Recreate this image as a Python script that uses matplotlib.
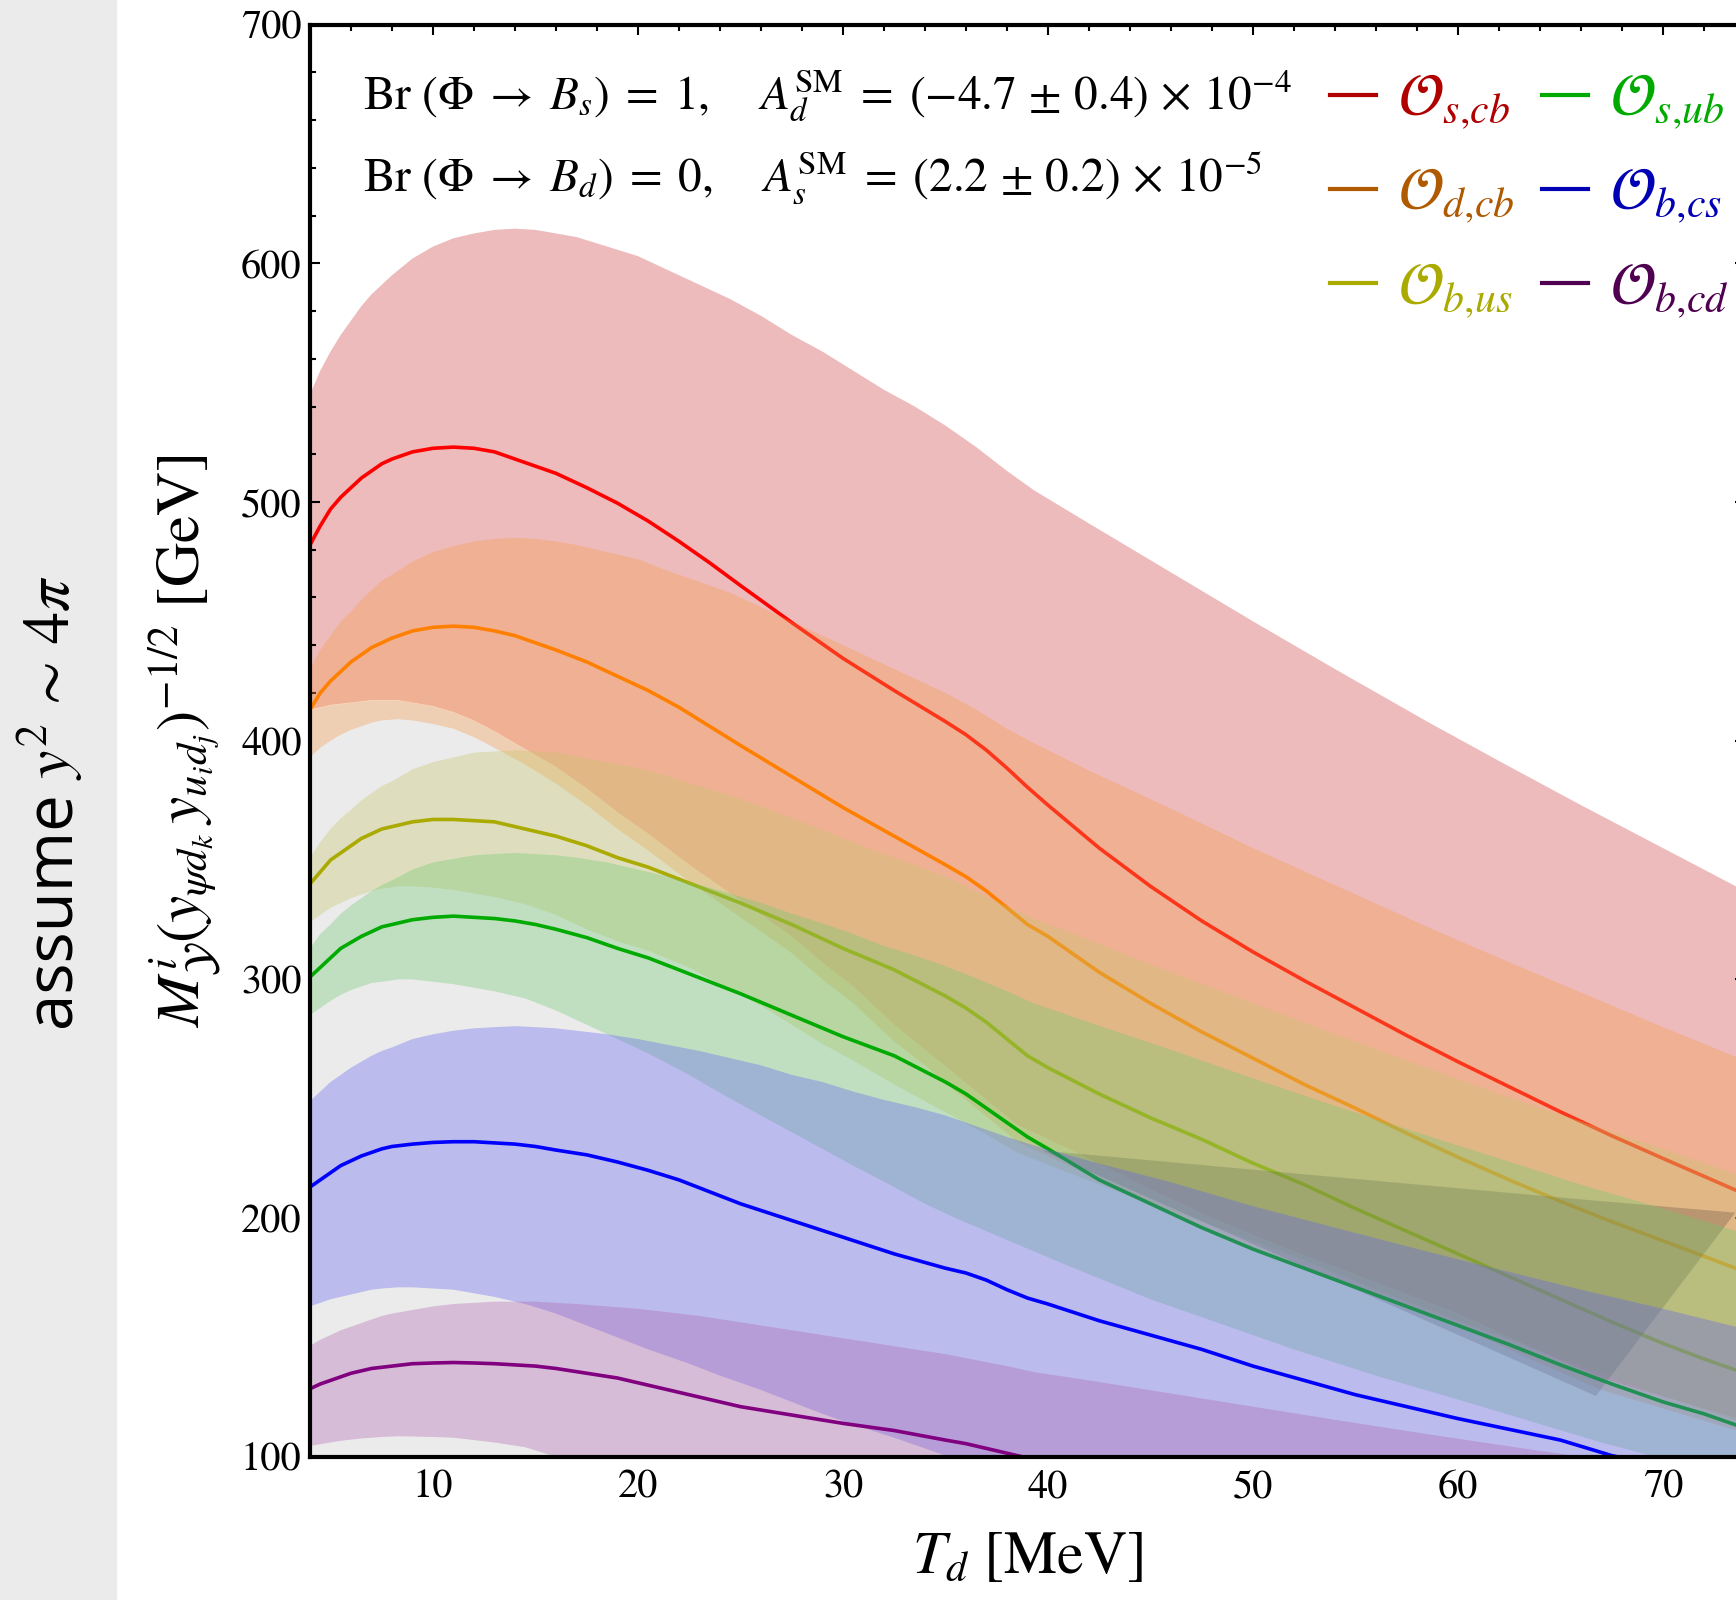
import matplotlib.pyplot as plt
from matplotlib.lines import Line2D
from matplotlib.patches import Rectangle
from matplotlib.ticker import MultipleLocator

plt.rcParams['mathtext.fontset'] = 'stix'
plt.rcParams['font.family'] = ['STIXGeneral', 'DejaVu Serif']

T_LINE = [4, 4.5, 5, 5.5, 6, 6.5, 7, 7.5, 8, 9, 10, 11, 12, 13, 14, 15, 16,
          17.5, 19, 20.5, 22, 23.5, 25, 27.5, 30, 32.5, 35, 36, 37, 38, 39, 40,
          42.5, 45, 47.5, 50, 52.5, 55, 57.5, 60, 62.5, 65, 67.5, 70, 72, 74]
T_UP = [4, 4.5, 5, 5.5, 6, 6.5, 7, 7.5, 8, 9, 10, 11, 12, 13, 14, 15, 16, 17,
        18.5, 20, 21.5, 23, 24.5, 26, 27.5, 29, 30.5, 32, 33.5, 35, 36.5, 38,
        39.3, 42, 46, 50, 54, 58.5, 62, 66, 70, 74]
T_LO = [4, 4.5, 5, 5.5, 6, 6.5, 7, 7.5, 8.3, 9, 10, 11, 12, 13, 14.5, 16,
        17.5, 19, 20.5, 22.5, 24, 26, 27.5, 29, 30.5, 32.5, 34, 35.5, 37, 38.5,
        41, 45, 48, 52, 56, 60, 63.5, 67, 70.5, 74]

# central curves (GeV), on T_LINE
red_line = [482, 490, 497, 502, 506, 510, 513, 516, 518, 521, 522.5, 523, 522.5,
            521, 518, 515, 512, 506, 499.5, 492, 483.5, 474.5, 465, 449.5, 434.5,
            421, 408, 402.5, 396, 388.5, 380.5, 373, 355, 339, 324.5, 311.5,
            299.5, 288, 276.5, 265.5, 255, 244.5, 234.5, 225, 217.5, 210]
orange_line = [413, 420, 425, 429, 433, 436, 439, 441, 443, 446, 447.5, 448,
               447.5, 446, 444, 441, 438, 433, 427, 421, 414, 406, 398, 385, 372,
               360, 348, 343, 337, 330, 323, 318, 303, 290, 278, 267, 256, 246,
               235.5, 225.5, 216, 207, 198.5, 190.5, 184, 177.5]
olive_line = [340, 345, 350, 353, 356, 359, 361, 363, 364, 366, 367, 367, 366.5,
              366, 364, 362, 360, 356, 351, 347, 342, 337, 332, 323, 313, 304,
              293, 288, 282, 275, 268, 263, 252, 242, 233, 223, 214, 204, 194.5,
              185, 175.5, 166, 156.5, 147.5, 141, 135]
green_line = [301, 305, 309, 313, 315.5, 318, 320, 322, 323, 325, 326, 326.5,
              326, 325.5, 324.5, 323, 321, 317.5, 313, 309, 304, 299, 294, 285,
              276, 268, 257, 252, 246, 240, 234, 229, 216, 206, 196, 187, 179,
              171, 163, 155, 147, 138.5, 130.5, 123, 118, 112]
blue_line = [213, 216, 219, 222, 224, 226, 227.5, 229, 230, 231, 231.7, 232, 232,
             231.5, 231, 230, 228.5, 226.5, 223.5, 220, 216, 211, 206, 199, 192,
             185, 179, 177, 174, 170, 166.5, 164, 157, 151, 145, 138, 132, 126,
             121, 116, 111.5, 107, 100.5, 96]
purple_line = [128.5, 130.5, 132, 133.5, 135, 136, 137, 137.5, 138, 139, 139.3,
               139.5, 139.3, 139, 138.5, 138, 137, 135, 133, 130, 127, 124, 121,
               117.5, 114, 111, 107, 105.5, 103.5, 101.5, 99.5, 97.5]

# upper edges of the bands, on T_UP
red_up = [545, 555, 563, 570, 576, 582, 587, 591, 595, 602, 607, 610.5, 612.5,
          614, 614.5, 614, 612.5, 611, 607, 603, 597, 591, 585, 578, 570, 563,
          555, 547, 540, 532, 523, 513, 505, 491, 470.5, 450, 430, 408, 391.5,
          373, 355, 337]
orange_up = [430, 438, 444, 450, 454, 459, 463, 467, 469.5, 475, 479, 481.5,
             483.5, 484.5, 485, 484.5, 483.5, 482, 479, 476, 471, 466.5, 462, 456,
             450, 444, 438, 432, 426, 420, 413, 405, 399, 387.5, 371.5, 355,
             339.5, 322, 309, 294.5, 280, 266]
olive_up = [351, 357.5, 363, 367.5, 371, 375, 378, 381, 383, 388, 391, 393, 395,
            395.5, 396, 395.5, 395, 393.5, 391, 388.5, 385, 381, 377, 372.5,
            367.5, 362.5, 357.5, 352.5, 348, 343, 337, 330.5, 325.5, 316.5, 303,
            290, 277, 263, 252, 240.5, 229, 217]
green_up = [313, 319, 323, 327.5, 331, 334, 337, 339.5, 341.5, 346, 349, 350.5,
            352, 352.5, 353, 352.5, 352, 351, 349, 346, 343, 339.5, 336, 332,
            327.5, 323.5, 319, 314, 310, 305.5, 300.5, 295, 290, 282, 270.5,
            258.5, 247, 234.5, 225, 214, 204, 193.5]
blue_up = [249, 253, 257, 260, 263, 265.5, 268, 270, 271.5, 275, 277, 278.5,
           279.5, 280, 280.4, 280, 279.5, 278.5, 277, 275, 272.5, 270, 267, 264,
           260, 257, 253, 249.5, 246.5, 243, 238.5, 234, 230.5, 224, 215, 205,
           196, 186, 178.5, 170, 162, 153.5]
purple_up = [146.5, 149, 151, 153, 154.5, 156, 157.5, 159, 160, 161.5, 163, 164,
             164.5, 165, 165, 165, 164.5, 164, 163, 162, 160.5, 159, 157, 155,
             153, 151, 149, 147, 145, 143, 140.5, 138, 135.5, 132, 126.5, 121,
             115.5, 109.5, 105, 100, 95.5, 90.5]

# lower edges of the bands, on T_LO (the grey region sits under the red band)
gray_up = [413, 414, 415, 415.5, 416, 416.5, 417, 417, 417, 416, 414.5, 412,
           408.5, 404, 396.5, 389, 380, 370, 361, 348, 339, 327, 318, 307, 297,
           281, 270.5, 260, 249.5, 239, 229, 212, 200, 186, 173, 160, 146, 133,
           124, 115]
orange_lo = [393, 397, 400, 402.5, 404.5, 406, 407.5, 408.5, 409, 408.5, 407,
             405, 401.5, 397, 390, 382, 373, 363, 354, 341, 332, 320, 311, 300,
             290, 274, 264, 253, 242.5, 232, 222, 206, 194, 180, 167, 155, 141,
             128, 119, 110]
olive_lo = [324, 327, 330, 332, 334, 335.5, 337, 338, 339, 339, 338.5, 337.5,
            336, 334.5, 331.5, 327, 321, 316, 312, 305, 298, 289, 281, 273, 266,
            256, 249, 242, 235, 227.5, 219, 206, 197, 184, 170, 157, 146, 135,
            124, 114]
green_lo = [285, 288, 291, 293.5, 295.5, 297, 298.5, 299, 300, 300, 299, 298,
            296.5, 295, 292, 287, 281, 275, 269, 260, 252.5, 243, 236, 229, 222,
            213, 206, 200, 194.5, 189, 180, 166, 157, 145, 134, 124, 115, 106, 98,
            90]
blue_lo = [163, 164.5, 166, 167, 168, 169, 170, 170.5, 171, 171, 170.5, 170,
           168.5, 167, 164, 160, 155, 150, 145, 139, 134, 128, 123, 118, 113.5,
           108, 103.5, 99, 94.5, 90, 85, 78, 72, 65, 58, 52, 47, 42, 38, 34]
purple_lo = [104.5, 105.3, 106, 106.7, 107.2, 107.7, 108, 108.3, 108.6, 108.5,
             108.3, 108, 107, 106, 104, 100, 97, 94, 91, 87, 84, 80, 77, 74, 72,
             68, 65, 62, 60, 57, 53, 46, 42, 37, 32, 27, 23, 19, 15, 12]

# darker wedge where the bands pile up at high T_d
T_DARK = [39.7, 66.7, 73.5]
dark_up = [228.5, 207.5, 202.5]
dark_lo = [228.5, 125.7, 202.5]

labels = [r'$\mathcal{O}_{s{,}cb}$', r'$\mathcal{O}_{d{,}cb}$', r'$\mathcal{O}_{b{,}us}$',
          r'$\mathcal{O}_{s{,}ub}$', r'$\mathcal{O}_{b{,}cs}$', r'$\mathcal{O}_{b{,}cd}$']
legend_colors = ['#b00000', '#b05a00', '#aaaa00', '#00aa00', '#0000b4', '#500050']


def band(ax, up, lo, color, z):
    # polygon: upper edge left->right, lower edge right->left
    xs = T_UP + T_LO[::-1]
    ys = up + lo[::-1]
    ax.fill(xs, ys, color=color, alpha=0.35, lw=0, zorder=z)


fig = plt.figure(figsize=(17.36, 16), dpi=100)
fig.patches.append(Rectangle((0, 0), 116 / 1736, 1, transform=fig.transFigure,
                             color='#ebebeb', zorder=0))
ax = fig.add_axes([310 / 1736, 143.2 / 1600, 1435 / 1736, 1432.2 / 1600])

# bands + lines, drawn in the original stacking order
band(ax, red_up, gray_up, '#cc3d3d', 1)
ax.plot(T_LINE, red_line, color='#ff0000', lw=2.6, zorder=1.5)
ax.fill_between(T_LO, 0, gray_up, color='#ebebeb', lw=0, zorder=2)
band(ax, orange_up, orange_lo, '#f89c4c', 3)
ax.plot(T_LINE, orange_line, color='#ff8000', lw=2.6, zorder=3.5)
band(ax, olive_up, olive_lo, '#c6c66a', 4)
ax.plot(T_LINE, olive_line, color='#aaaa00', lw=2.6, zorder=4.5)
ax.fill_between(T_DARK, dark_lo, dark_up, color='#5f4b3f', alpha=0.3, lw=0,
                zorder=4.8)
band(ax, green_up, green_lo, '#70c970', 5)
ax.plot(T_LINE, green_line, color='#00aa00', lw=2.6, zorder=5.5)
band(ax, blue_up, blue_lo, '#6262f4', 6)
ax.plot(T_LINE[:len(blue_line)], blue_line, color='#0000ff', lw=2.6, zorder=6.5)
band(ax, purple_up, purple_lo, '#af65af', 7)
ax.plot(T_LINE[:len(purple_line)], purple_line, color='#800080', lw=2.6,
        zorder=7.5)

ax.set_xlim(4, 74)
ax.set_ylim(100, 700)
ax.xaxis.set_major_locator(MultipleLocator(10))
ax.xaxis.set_minor_locator(MultipleLocator(2))
ax.yaxis.set_major_locator(MultipleLocator(100))
ax.yaxis.set_minor_locator(MultipleLocator(20))
ax.tick_params(which='both', direction='in', top=True, right=True,
               width=1.5, labelsize=29, zorder=10)
ax.tick_params(which='major', length=7)
ax.tick_params(which='minor', length=4)
ax.tick_params(axis='x', pad=9)
ax.tick_params(axis='y', pad=6)
for s in ax.spines.values():
    s.set_linewidth(3)
    s.set_zorder(10)

ax.set_xlabel(r'$T_d$ [MeV]', fontsize=43, labelpad=18)
ax.set_ylabel(r'$M^{i}_{\mathcal{Y}}\left(y_{\psi d_k}\,y_{u_i d_j}\right)^{-1/2}$ [GeV]',
              fontsize=44, labelpad=12)

fig.text(363 / 1736, 1 - 109.5 / 1600,
         r'$\mathrm{Br}\ (\Phi\;\rightarrow\;B_s)\;=\;1,\quad\;A_d^{\mathrm{SM}}\;=\;(-4.7\,\pm\,0.4)\,\times\,10^{-4}$',
         fontsize=34, va='baseline', ha='left')
fig.text(363 / 1736, 1 - 191 / 1600,
         r'$\mathrm{Br}\ (\Phi\;\rightarrow\;B_d)\;=\;0,\quad\;A_s^{\mathrm{SM}}\;=\;(2.2\,\pm\,0.2)\,\times\,10^{-5}$',
         fontsize=34, va='baseline', ha='left')

handles = [Line2D([], [], color=c, lw=3) for c in legend_colors]
leg = fig.legend(handles, labels, ncol=2, loc='upper left',
                 bbox_to_anchor=(1330 / 1736, 1 - 73 / 1600), frameon=False,
                 fontsize=43, handlelength=0.77, handletextpad=0.37,
                 columnspacing=0.45, labelspacing=0.6, borderaxespad=0,
                 borderpad=0)
for t, c in zip(leg.get_texts(), legend_colors):
    t.set_color(c)

# side note in the grey strip: sans word + math part, both reading upwards
fig.text(70 / 1736, 1 - 1027 / 1600, 'assume', rotation=90,
         rotation_mode='anchor', ha='left', va='baseline', fontsize=47,
         family=['Open Sans', 'DejaVu Sans'])
fig.text(70 / 1736, 1 - 780 / 1600, r'$y^2\,\sim\,4\pi$', rotation=90,
         rotation_mode='anchor', ha='left', va='baseline', fontsize=46)

fig.savefig('out.png', dpi=100)
